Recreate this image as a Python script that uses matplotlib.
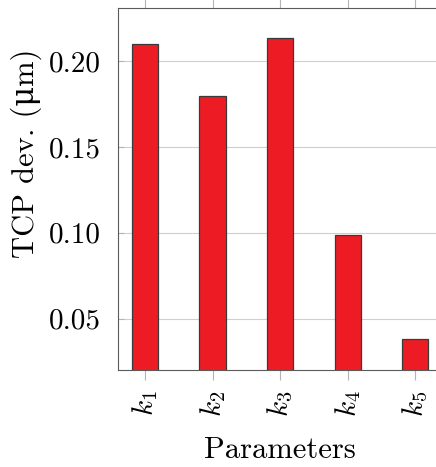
import numpy as np
import matplotlib
matplotlib.use("Agg")
import matplotlib.pyplot as plt

# =====================================================
# DATA
# =====================================================

params = [r"$k_1$", r"$k_2$", r"$k_3$", r"$k_4$", r"$k_5$"]
tcp_dev = [0.2103, 0.1796, 0.2134, 0.0985, 0.0380]
y_ticks = [0.05, 0.10, 0.15, 0.20]
y_tick_labels = ["0.05", "0.10", "0.15", "0.20"]

RED = "#ED1C24"
EDGE = "#3A3A3A"
SPINE = "#5A5A5A"
TICK = "#B4B4B4"
GRID = "#CFCFCF"

plt.rcParams.update({
    "font.family": "serif",
    "font.serif": ["cmr10", "DejaVu Serif"],
    "mathtext.fontset": "cm",
    "axes.unicode_minus": False,
    "font.size": 20,
})

fig = plt.figure(figsize=(4.36, 4.67), dpi=100)
ax = fig.add_axes([0.270, 0.2084, 0.745, 0.7738])

x = np.arange(1, len(params) + 1)

ax.bar(x, tcp_dev, width=0.39, color=RED, edgecolor=EDGE,
       linewidth=0.9, zorder=3)

ax.set_xlim(0.596, 5.404)
ax.set_ylim(0.0202, 0.2309)

ax.set_yticks(y_ticks)
ax.set_yticklabels(y_tick_labels, fontsize=21)
ax.set_xticks(x)
ax.set_xticklabels(params, rotation=90, fontsize=21)

ax.yaxis.grid(True, color=GRID, linewidth=0.8, zorder=0)
ax.set_axisbelow(True)

ax.tick_params(axis="x", direction="out", length=7, width=0.8,
               color=TICK, top=True, labeltop=False, pad=8)
ax.tick_params(axis="y", direction="in", length=4, width=0.8,
               color=TICK, right=True, pad=12)

for spine in ax.spines.values():
    spine.set_color(SPINE)
    spine.set_linewidth(0.8)

ax.set_xlabel("Parameters", fontsize=22, labelpad=14)
ax.set_ylabel("TCP dev. (\u03bcm)", fontsize=22,
              family=["cmr10", "DejaVu Serif"])
ax.yaxis.set_label_coords(-0.233, 0.60)

plt.savefig("out.png", dpi=100)
plt.close()
